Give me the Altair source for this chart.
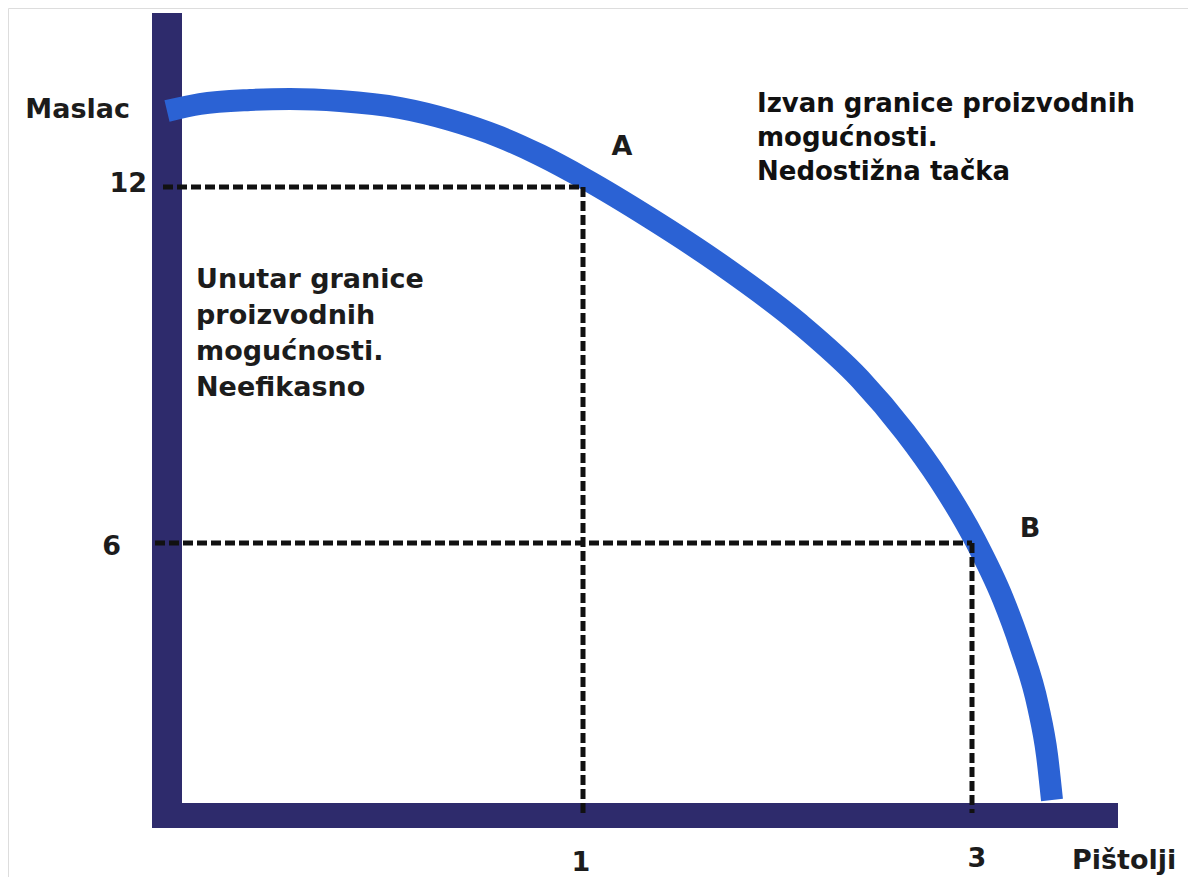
import altair as alt
import pandas as pd

# Schematic units: x = distance right of the vertical axis, y = distance above the horizontal axis
curve_x = [-13, 20, 70, 110, 160, 220, 270, 320, 360, 405, 470, 540, 620, 680, 725, 760, 795, 823, 840, 858, 867, 872]
curve_y = [689, 696, 700, 701, 699, 692, 680, 663, 645, 621, 582, 536, 476, 421, 368, 319, 260, 201, 155, 94, 45, 0]

# axis bars
bar_x = [-28, -28]
bar_x2 = [2, 938]
bar_y = [-28, -28]
bar_y2 = [787, -3]

# dashed guide segments (points A and B)
dash_id = ["a_h", "a_h", "a_v", "a_v", "b_h", "b_h", "b_v", "b_v"]
dash_x = [-17, 403, 403, 403, -25, 792, 792, 792]
dash_y = [613, 613, 613, -13, 257, 257, 257, -13]

# labels
right_text = ["Maslac", "12", "6"]
right_x = [-50, -33, -59]
right_y = [682, 608, 245]

center_text = ["1", "3", "A", "B"]
center_x = [401, 797, 442, 850]
center_y = [-71, -67, 645, 263]

left_text = ["Pištolji"]
left_x = [892]
left_y = [-69]

block_out = "Izvan granice proizvodnih\nmogućnosti.\nNedostižna tačka"
block_in = "Unutar granice\nproizvodnih\nmogućnosti.\nNeefikasno"

xs = alt.Scale(domain=[-172, 1008], nice=False, zero=False)
ys = alt.Scale(domain=[-77, 792], nice=False, zero=False)

NAVY = "#2e2b6c"
BLUE = "#2b62d4"
INK = "#1c1c1c"
FONT = "DejaVu Sans"

bars = alt.Chart(pd.DataFrame({"x": bar_x, "x2": bar_x2, "y": bar_y, "y2": bar_y2})).mark_rect(
    color=NAVY
).encode(
    x=alt.X("x:Q", scale=xs, axis=None), x2="x2:Q",
    y=alt.Y("y:Q", scale=ys, axis=None), y2="y2:Q",
)

curve = alt.Chart(pd.DataFrame({"x": curve_x, "y": curve_y, "o": list(range(len(curve_x)))})).mark_line(
    color=BLUE, strokeWidth=22, interpolate="monotone", strokeCap="butt"
).encode(
    x=alt.X("x:Q", scale=xs, axis=None),
    y=alt.Y("y:Q", scale=ys, axis=None),
    order="o:Q",
)

dashes = alt.Chart(pd.DataFrame({"id": dash_id, "x": dash_x, "y": dash_y})).mark_line(
    color="#111111", strokeWidth=5, strokeDash=[10, 4]
).encode(
    x=alt.X("x:Q", scale=xs, axis=None),
    y=alt.Y("y:Q", scale=ys, axis=None),
    detail="id:N",
)

def texts(t, x, y, align, size=27):
    return alt.Chart(pd.DataFrame({"t": t, "x": x, "y": y})).mark_text(
        align=align, baseline="alphabetic", font=FONT, fontSize=size, fontWeight="bold", color=INK
    ).encode(
        x=alt.X("x:Q", scale=xs, axis=None),
        y=alt.Y("y:Q", scale=ys, axis=None),
        text="t:N",
    )

lab_r = texts(right_text, right_x, right_y, "right")
lab_c = texts(center_text, center_x, center_y, "center")
lab_l = texts(left_text, left_x, left_y, "left")

blk_out = alt.Chart(pd.DataFrame({"t": [block_out], "x": [577], "y": [688]})).mark_text(
    align="left", baseline="alphabetic", font=FONT, fontSize=26, fontWeight="bold", color="#111111",
    lineBreak="\n", lineHeight=34
).encode(
    x=alt.X("x:Q", scale=xs, axis=None),
    y=alt.Y("y:Q", scale=ys, axis=None),
    text="t:N",
)

blk_in = alt.Chart(pd.DataFrame({"t": [block_in], "x": [16], "y": [512]})).mark_text(
    align="left", baseline="alphabetic", font=FONT, fontSize=27, fontWeight="bold", color=INK,
    lineBreak="\n", lineHeight=36
).encode(
    x=alt.X("x:Q", scale=xs, axis=None),
    y=alt.Y("y:Q", scale=ys, axis=None),
    text="t:N",
)

chart = alt.layer(bars, curve, dashes, lab_r, lab_c, lab_l, blk_out, blk_in).properties(
    width=1180, height=869, padding=0, autosize=alt.AutoSizeParams(type="none")
).configure_view(strokeWidth=0).configure(background="white")

chart.save("out.html", embed_options={"renderer": "svg", "actions": False})
